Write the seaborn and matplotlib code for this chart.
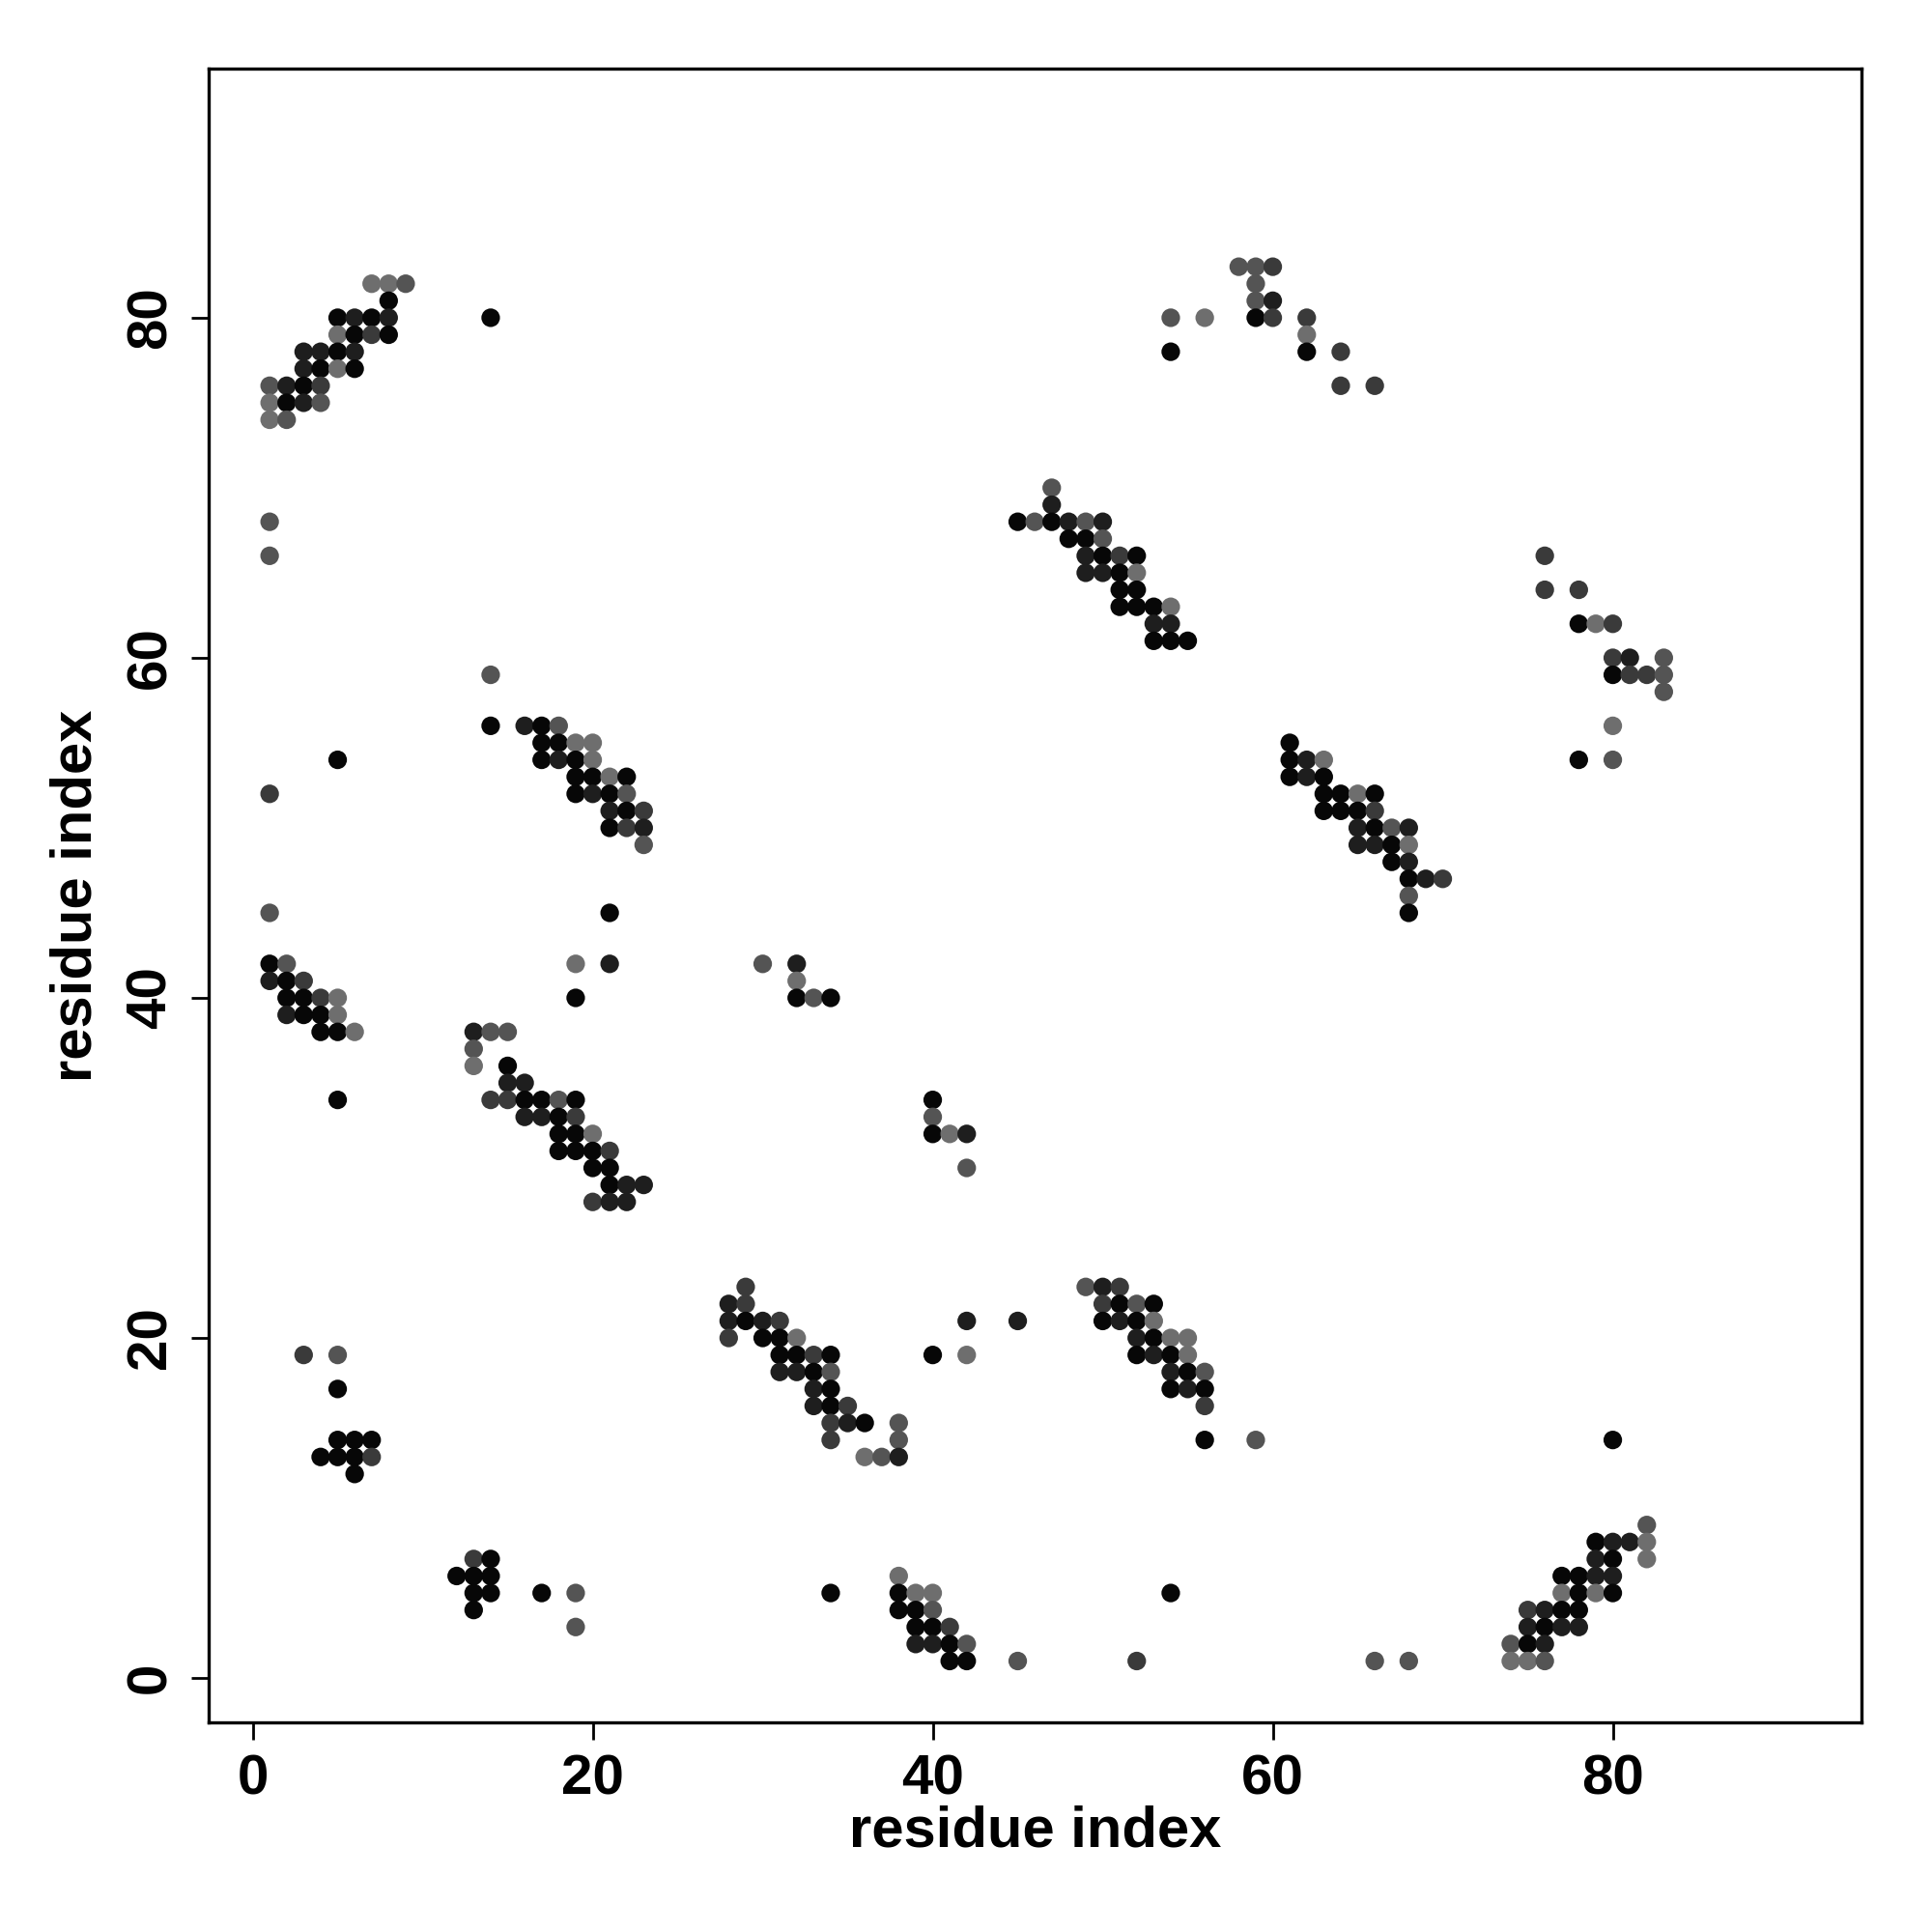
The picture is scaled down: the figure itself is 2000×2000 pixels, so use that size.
import pandas as pd
import numpy as np
import matplotlib
matplotlib.use("Agg")
import matplotlib.pyplot as plt
from matplotlib.colors import LinearSegmentedColormap
import seaborn as sns

# contact strength per grey level (k = strongest/black ... l = weakest/light grey)
levels = {"k": 0.97, "d": 0.88, "m": 0.77, "g": 0.67, "l": 0.57}

# contacts as (residue i, residue j, level), grouped by region of the map
block_top_left = [
    (7, 82, "l"), (8, 82, "l"), (9, 82, "g"), (8, 81, "k"),
    (5, 80, "k"), (6, 80, "d"), (7, 80, "k"), (8, 80, "d"), (14, 80, "k"),
    (5, 79, "l"), (6, 79, "k"), (7, 79, "m"), (8, 79, "k"),
    (3, 78, "d"), (4, 78, "d"), (5, 78, "k"), (6, 78, "d"),
    (3, 77, "d"), (4, 77, "k"), (5, 77, "l"), (6, 77, "k"),
    (1, 76, "g"), (2, 76, "d"), (3, 76, "k"), (4, 76, "m"),
    (1, 75, "l"), (2, 75, "k"), (3, 75, "d"), (4, 75, "g"),
    (1, 74, "l"), (2, 74, "g"), (1, 68, "g"), (1, 66, "g"),
]
block_top_mid = [
    (58, 83, "g"), (59, 83, "g"), (60, 83, "m"), (59, 82, "g"),
    (59, 81, "g"), (60, 81, "d"),
    (54, 80, "g"), (56, 80, "l"), (59, 80, "k"), (60, 80, "m"), (62, 80, "m"),
    (62, 79, "l"), (54, 78, "k"), (62, 78, "k"), (64, 78, "m"),
    (64, 76, "m"), (66, 76, "m"),
]
block_d = [
    (47, 70, "g"), (47, 69, "d"),
    (45, 68, "k"), (46, 68, "g"), (47, 68, "k"), (48, 68, "d"), (49, 68, "g"), (50, 68, "d"),
    (48, 67, "k"), (49, 67, "k"), (50, 67, "g"),
    (49, 66, "d"), (50, 66, "k"), (51, 66, "m"), (52, 66, "k"),
    (49, 65, "d"), (50, 65, "d"), (51, 65, "k"), (52, 65, "l"),
    (51, 64, "k"), (52, 64, "k"),
    (51, 63, "k"), (52, 63, "k"), (53, 63, "k"), (54, 63, "l"),
    (53, 62, "d"), (54, 62, "d"),
    (53, 61, "k"), (54, 61, "k"), (55, 61, "k"),
]
block_e = [
    (76, 66, "m"), (76, 64, "m"), (78, 64, "m"),
    (78, 62, "k"), (79, 62, "l"), (80, 62, "m"),
    (80, 60, "m"), (81, 60, "d"), (83, 60, "g"),
    (80, 59, "k"), (81, 59, "m"), (82, 59, "m"), (83, 59, "g"),
    (83, 58, "g"), (80, 56, "l"), (78, 54, "k"), (80, 54, "g"),
]
block_f = [
    (61, 55, "k"), (61, 54, "k"), (62, 54, "d"), (63, 54, "l"),
    (61, 53, "k"), (62, 53, "d"), (63, 53, "k"),
    (63, 52, "k"), (64, 52, "k"), (65, 52, "l"), (66, 52, "k"),
    (63, 51, "k"), (64, 51, "k"), (65, 51, "k"), (66, 51, "m"),
    (65, 50, "d"), (66, 50, "k"), (67, 50, "g"), (68, 50, "d"),
    (65, 49, "d"), (66, 49, "d"), (67, 49, "k"), (68, 49, "l"),
    (67, 48, "k"), (68, 48, "d"),
    (68, 47, "k"), (69, 47, "d"), (70, 47, "m"),
    (68, 46, "g"), (68, 45, "k"),
]
block_g = [
    (14, 59, "g"),
    (14, 56, "k"), (16, 56, "d"), (17, 56, "k"), (18, 56, "g"),
    (17, 55, "k"), (18, 55, "k"), (19, 55, "l"), (20, 55, "l"),
    (5, 54, "k"), (17, 54, "k"), (18, 54, "d"), (19, 54, "k"), (20, 54, "l"),
    (19, 53, "k"), (20, 53, "k"), (21, 53, "l"), (22, 53, "k"),
    (1, 52, "m"), (19, 52, "k"), (20, 52, "d"), (21, 52, "k"), (22, 52, "g"),
    (21, 51, "d"), (22, 51, "k"), (23, 51, "m"),
    (21, 50, "k"), (22, 50, "m"), (23, 50, "d"),
    (23, 49, "g"),
]
block_h = [
    (1, 45, "g"), (21, 45, "k"),
    (1, 42, "k"), (2, 42, "g"), (19, 42, "l"), (21, 42, "d"),
    (1, 41, "d"), (2, 41, "k"), (3, 41, "m"),
    (2, 40, "k"), (3, 40, "k"), (4, 40, "m"), (5, 40, "l"), (19, 40, "k"),
    (2, 39, "d"), (3, 39, "k"), (4, 39, "k"), (5, 39, "l"),
    (4, 38, "k"), (5, 38, "k"), (6, 38, "l"),
    (30, 42, "g"), (32, 42, "d"), (32, 41, "l"),
    (32, 40, "k"), (33, 40, "g"), (34, 40, "k"),
]
block_i = [
    (13, 38, "d"), (14, 38, "g"), (15, 38, "g"), (13, 37, "g"),
    (13, 36, "l"), (15, 36, "k"), (15, 35, "d"), (16, 35, "d"),
    (5, 34, "k"), (14, 34, "m"), (15, 34, "m"), (16, 34, "k"), (17, 34, "k"),
    (18, 34, "g"), (19, 34, "k"),
    (16, 33, "d"), (17, 33, "d"), (18, 33, "k"), (19, 33, "m"),
    (18, 32, "k"), (19, 32, "k"), (20, 32, "l"),
    (18, 31, "k"), (19, 31, "k"), (20, 31, "k"), (21, 31, "m"),
    (20, 30, "k"), (21, 30, "k"),
    (21, 29, "k"), (22, 29, "d"), (23, 29, "d"),
    (20, 28, "m"), (21, 28, "d"), (22, 28, "d"),
    (40, 34, "k"), (40, 33, "g"), (40, 32, "k"), (41, 32, "l"), (42, 32, "d"),
    (42, 30, "g"),
]
block_j = [
    (29, 23, "m"), (28, 22, "d"), (29, 22, "m"),
    (28, 21, "d"), (29, 21, "k"), (30, 21, "d"), (31, 21, "m"), (42, 21, "d"), (45, 21, "d"),
    (28, 20, "m"), (30, 20, "k"), (31, 20, "k"), (32, 20, "l"),
    (31, 19, "k"), (32, 19, "k"), (33, 19, "m"), (34, 19, "k"), (40, 19, "k"), (42, 19, "l"),
    (31, 18, "d"), (32, 18, "d"), (33, 18, "k"), (34, 18, "g"),
    (33, 17, "d"), (34, 17, "k"),
    (33, 16, "d"), (34, 16, "k"), (35, 16, "m"),
    (34, 15, "m"), (35, 15, "d"), (36, 15, "k"), (38, 15, "g"),
    (34, 14, "m"), (38, 14, "g"),
    (36, 13, "l"), (37, 13, "g"), (38, 13, "d"),
]
block_k = [
    (49, 23, "g"), (50, 23, "d"), (51, 23, "m"),
    (50, 22, "m"), (51, 22, "k"), (52, 22, "g"), (53, 22, "k"),
    (50, 21, "k"), (51, 21, "d"), (52, 21, "k"), (53, 21, "l"),
    (52, 20, "d"), (53, 20, "k"), (54, 20, "l"), (55, 20, "l"),
    (52, 19, "k"), (53, 19, "d"), (54, 19, "k"), (55, 19, "l"),
    (54, 18, "d"), (55, 18, "k"), (56, 18, "g"),
    (54, 17, "k"), (55, 17, "d"), (56, 17, "k"),
    (56, 16, "m"), (56, 14, "k"), (59, 14, "g"),
]
block_bottom_left = [
    (3, 19, "m"), (5, 19, "g"), (5, 17, "k"),
    (5, 14, "k"), (6, 14, "k"), (7, 14, "k"),
    (4, 13, "k"), (5, 13, "k"), (6, 13, "k"), (7, 13, "m"), (6, 12, "k"),
    (13, 7, "m"), (14, 7, "k"),
    (12, 6, "k"), (13, 6, "k"), (14, 6, "k"),
    (13, 5, "k"), (14, 5, "k"), (17, 5, "k"), (19, 5, "g"),
    (13, 4, "k"), (19, 3, "g"),
]
block_bottom_mid = [
    (38, 6, "l"),
    (34, 5, "k"), (38, 5, "k"), (39, 5, "l"), (40, 5, "l"), (54, 5, "k"),
    (38, 4, "k"), (39, 4, "k"), (40, 4, "g"),
    (39, 3, "k"), (40, 3, "k"), (41, 3, "m"),
    (39, 2, "d"), (40, 2, "d"), (41, 2, "k"), (42, 2, "g"),
    (41, 1, "k"), (42, 1, "k"), (45, 1, "g"), (52, 1, "m"), (66, 1, "g"), (68, 1, "g"),
]
block_bottom_right = [
    (82, 9, "g"),
    (79, 8, "k"), (80, 8, "d"), (81, 8, "d"), (82, 8, "l"),
    (79, 7, "d"), (80, 7, "k"), (82, 7, "l"),
    (77, 6, "k"), (78, 6, "k"), (79, 6, "d"), (80, 6, "d"),
    (77, 5, "l"), (78, 5, "k"), (79, 5, "l"), (80, 5, "k"),
    (75, 4, "m"), (76, 4, "d"), (77, 4, "k"), (78, 4, "k"),
    (75, 3, "d"), (76, 3, "k"), (77, 3, "d"), (78, 3, "d"),
    (74, 2, "g"), (75, 2, "k"), (76, 2, "d"),
    (74, 1, "l"), (75, 1, "l"), (76, 1, "g"),
    (80, 14, "k"),
]

tick_values = [0, 20, 40, 60, 80]

blocks = [block_top_left, block_top_mid, block_d, block_e, block_f, block_g, block_h,
          block_i, block_j, block_k, block_bottom_left, block_bottom_mid, block_bottom_right]
rows = [(i, j, levels[c]) for b in blocks for (i, j, c) in b]
df = pd.DataFrame(rows, columns=["i", "j", "prob"])

sns.set_style("white")
plt.rcParams["font.family"] = ["Liberation Sans", "DejaVu Sans"]
plt.rcParams["font.weight"] = "bold"
plt.rcParams["text.color"] = "black"
plt.rcParams["axes.labelcolor"] = "black"
plt.rcParams["xtick.color"] = "black"
plt.rcParams["ytick.color"] = "black"

fig = plt.figure(figsize=(10, 10), dpi=200)
ax = fig.add_axes([0.1078, 0.1084, 0.8559, 0.8559])

cmap = LinearSegmentedColormap.from_list("bw", ["white", "black"])
sns.scatterplot(data=df, x="i", y="j", hue="prob", palette=cmap, hue_norm=(0, 1),
                s=48, linewidth=0, legend=False, ax=ax)

ax.set_xlim(-2.61, 94.65)
ax.set_ylim(-2.62, 94.63)
ax.set_xticks(tick_values)
ax.set_yticks(tick_values)
ax.set_xticklabels([str(v) for v in tick_values])
ax.set_yticklabels([str(v) for v in tick_values])
for sp in ax.spines.values():
    sp.set_visible(True)
    sp.set_color("black")
    sp.set_linewidth(1.2)

ax.tick_params(direction="out", length=6.5, width=1.0, colors="black", labelsize=21, pad=5,
               bottom=True, left=True)
plt.setp(ax.get_yticklabels(), rotation=90, va="center")

ax.set_xlabel("residue index", fontsize=21.5, fontweight="bold", color="black")
ax.set_ylabel("residue index", fontsize=21.5, fontweight="bold", color="black")
ax.xaxis.label.set_va("center")
ax.yaxis.label.set_va("center")
ax.xaxis.set_label_coords(0.5, -0.066)
ax.yaxis.set_label_coords(-0.0798, 0.5)

fig.savefig("out.png", dpi=200)
